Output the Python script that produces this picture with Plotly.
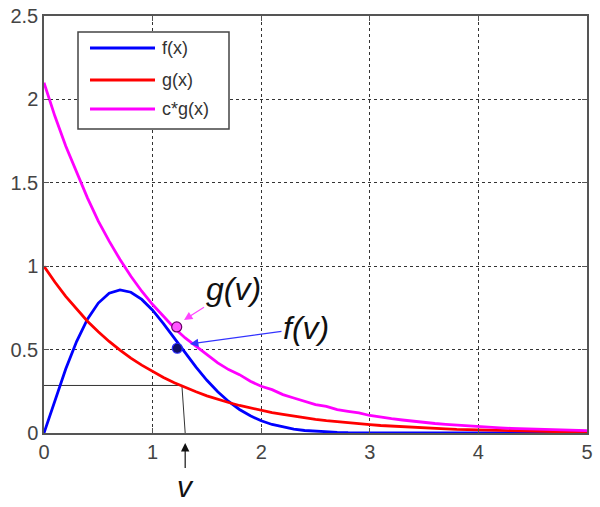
import plotly.graph_objects as go

# sampling grid (step 0.1 from 0 to 5)
x_vals = [round(0.1 * i, 1) for i in range(51)]

f_vals = [0.000, 0.198, 0.384, 0.548, 0.682, 0.779, 0.838, 0.858, 0.844, 0.801,
          0.736, 0.656, 0.569, 0.480, 0.395, 0.316, 0.247, 0.189, 0.141, 0.103,
          0.073, 0.051, 0.035, 0.023, 0.015, 0.010, 0.006, 0.004, 0.002, 0.001,
          0.000, 0.000, 0.000, 0.000, 0.000, 0.000, 0.000, 0.000, 0.000, 0.000,
          0.000, 0.000, 0.000, 0.000, 0.000, 0.000, 0.000, 0.000, 0.000, 0.000,
          0.000]

g_vals = [1.000, 0.905, 0.819, 0.741, 0.670, 0.607, 0.549, 0.497, 0.449, 0.407,
          0.368, 0.333, 0.301, 0.273, 0.247, 0.223, 0.202, 0.183, 0.165, 0.150,
          0.135, 0.122, 0.111, 0.100, 0.091, 0.082, 0.074, 0.067, 0.061, 0.055,
          0.050, 0.045, 0.041, 0.037, 0.033, 0.030, 0.027, 0.025, 0.022, 0.020,
          0.018, 0.017, 0.015, 0.014, 0.012, 0.011, 0.010, 0.009, 0.008, 0.007,
          0.007]

cg_vals = [2.100, 1.900, 1.720, 1.560, 1.410, 1.270, 1.150, 1.040, 0.940, 0.850,
           0.770, 0.700, 0.630, 0.570, 0.520, 0.470, 0.420, 0.380, 0.350, 0.310,
           0.280, 0.260, 0.230, 0.210, 0.190, 0.170, 0.160, 0.140, 0.130, 0.120,
           0.105, 0.094, 0.086, 0.078, 0.070, 0.063, 0.057, 0.052, 0.047, 0.042,
           0.038, 0.035, 0.031, 0.028, 0.026, 0.023, 0.021, 0.019, 0.017, 0.016,
           0.014]

# guide lines for v and g(v)
guide_h_x = [0.0, 1.27]
guide_h_y = [0.285, 0.285]
guide_v_x = [1.27, 1.30]
guide_v_y = [0.285, 0.0]

# marked points
pt_g = (1.222, 0.636)
pt_f = (1.227, 0.508)
v_pos = 1.30

x_ticks = [0, 1, 2, 3, 4, 5]
y_ticks = [0, 0.5, 1, 1.5, 2, 2.5]
y_tick_text = ["0", "0.5", "1", "1.5", "2", "2.5"]

legend_names = ["f(x)", "g(x)", "c*g(x)"]
colors = ["#0000ff", "#ff0000", "#ff00ff"]

fig = go.Figure()

fig.add_trace(go.Scatter(x=guide_h_x, y=guide_h_y, mode="lines",
                         line=dict(color="#333333", width=1), showlegend=False, hoverinfo="skip"))
fig.add_trace(go.Scatter(x=guide_v_x, y=guide_v_y, mode="lines",
                         line=dict(color="#333333", width=1), showlegend=False, hoverinfo="skip"))

for name, ys, c in zip(legend_names, [f_vals, g_vals, cg_vals], colors):
    fig.add_trace(go.Scatter(x=x_vals, y=ys, mode="lines", name=name,
                             line=dict(color=c, width=2.8), showlegend=False, cliponaxis=False))

fig.add_trace(go.Scatter(x=[pt_g[0]], y=[pt_g[1]], mode="markers", showlegend=False,
                         marker=dict(size=10, color="#ff55ff", line=dict(color="#660066", width=1.2))))
fig.add_trace(go.Scatter(x=[pt_f[0]], y=[pt_f[1]], mode="markers", showlegend=False,
                         marker=dict(size=10, color="#10106a", line=dict(color="#2a2aff", width=1.2))))

# pixel -> data helpers for the manual legend box
X0, PXU = 44.0, 108.6
Y0, PYU = 433.0, 166.8
def dx(px):
    return (px - X0) / PXU
def dy(py):
    return (Y0 - py) / PYU

shapes = [dict(type="rect", xref="x", yref="y", x0=dx(78), x1=dx(229), y0=dy(129), y1=dy(32),
               line=dict(color="#444444", width=1.5), fillcolor="white", layer="above")]
annotations = []
leg_rows = [48, 80, 109]
for name, c, py in zip(legend_names, colors, leg_rows):
    shapes.append(dict(type="line", xref="x", yref="y", x0=dx(90), x1=dx(155), y0=dy(py), y1=dy(py),
                       line=dict(color=c, width=2.8), layer="above"))
    annotations.append(dict(x=dx(160), y=dy(py), xref="x", yref="y", text=name, showarrow=False,
                            xanchor="left", yanchor="middle",
                            font=dict(family="Liberation Sans, Arial", size=18, color="#333333")))

annotations.append(dict(x=dx(184), y=dy(320), xref="x", yref="y", text="<i>g(v)</i>",
                        showarrow=True, ax=49, ay=-31, arrowhead=2, arrowsize=1.4, arrowwidth=1.2,
                        arrowcolor="#ff44ff",
                        font=dict(family="Liberation Sans, Arial", size=32, color="#111111")))
annotations.append(dict(x=dx(190), y=dy(344), xref="x", yref="y", text="<i>f(v)</i>",
                        showarrow=True, ax=116, ay=-16, arrowhead=2, arrowsize=1.4, arrowwidth=1.2,
                        arrowcolor="#3333ff",
                        font=dict(family="Liberation Sans, Arial", size=32, color="#111111")))
annotations.append(dict(x=v_pos, y=(433 - 443) / 417.0, xref="x", yref="paper", text="<i>v</i>",
                        showarrow=True, ax=0, ay=43, arrowhead=2, arrowsize=1.4, arrowwidth=1.2,
                        arrowcolor="#111111",
                        font=dict(family="Liberation Sans, Arial", size=30, color="#111111")))

axis_common = dict(showline=True, mirror="ticks", linecolor="#555555", linewidth=1.5,
                   ticks="inside", ticklen=5, tickcolor="#555555",
                   showgrid=True, gridcolor="#333333", gridwidth=1, griddash="3px,3px",
                   zeroline=False, automargin=False,
                   tickfont=dict(family="Liberation Sans, Arial", size=20, color="#444444"))

fig.update_layout(
    width=600, height=507,
    margin=dict(l=44, r=13, t=16, b=74),
    plot_bgcolor="white", paper_bgcolor="white",
    xaxis=dict(range=[0, 5], tickvals=x_ticks, **axis_common),
    yaxis=dict(range=[0, 2.5], tickvals=y_ticks, ticktext=y_tick_text, **axis_common),
    shapes=shapes, annotations=annotations, showlegend=False,
)

fig.write_html("out.html", config={"displayModeBar": False},
               post_script="document.body.style.margin='0';document.body.style.overflow='hidden';")
